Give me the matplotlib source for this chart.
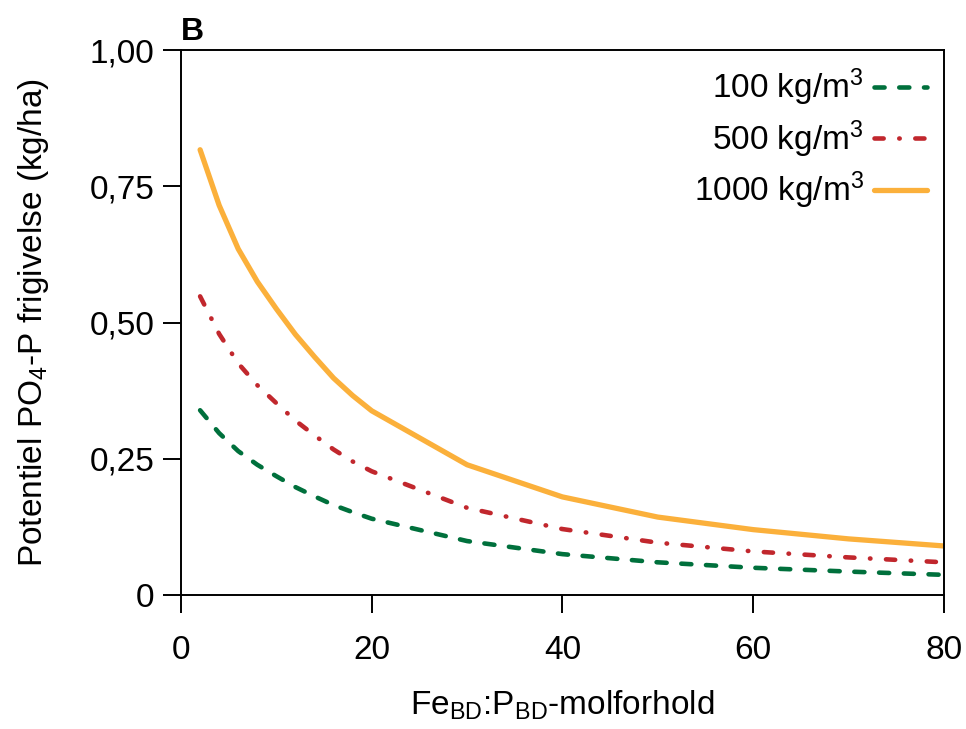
import numpy as np
import matplotlib
matplotlib.use("Agg")
import matplotlib.pyplot as plt

plt.rcParams['font.family'] = ['Liberation Sans', 'DejaVu Sans']
plt.rcParams['mathtext.fontset'] = 'custom'
plt.rcParams['mathtext.rm'] = 'Liberation Sans'
plt.rcParams['mathtext.it'] = 'Liberation Sans'

# Fe:P molar ratio
ratio = [2, 4, 6, 8, 10, 12, 14, 16, 18, 20, 30, 40, 50, 60, 70, 80]

# potential PO4-P release (kg/ha) per sediment density
p_100 = [0.339, 0.297, 0.264, 0.239, 0.218, 0.198, 0.181, 0.165, 0.152, 0.140,
         0.099, 0.075, 0.060, 0.050, 0.043, 0.037]
p_500 = [0.548, 0.479, 0.425, 0.385, 0.352, 0.320, 0.293, 0.267, 0.245, 0.227,
         0.160, 0.121, 0.096, 0.080, 0.069, 0.060]
p_1000 = [0.817, 0.715, 0.635, 0.575, 0.525, 0.478, 0.437, 0.398, 0.366, 0.338,
          0.239, 0.180, 0.143, 0.120, 0.103, 0.090]

labels = ['100 kg/m$^3$', '500 kg/m$^3$', '1000 kg/m$^3$']

xticks = [0, 20, 40, 60, 80]
yticks = [0, 0.25, 0.5, 0.75, 1.0]
yticklabels = ['0', '0,25', '0,50', '0,75', '1,00']

fig = plt.figure(figsize=(9.66, 7.29), dpi=100)
ax = fig.add_axes([0.1874, 0.1838, 0.7896, 0.7476])

ax.plot(ratio, p_100, color='#00703C', lw=3.3, dashes=(2.2, 3.2),
        dash_capstyle='round', label=labels[0])
ax.plot(ratio, p_500, color='#C1272D', lw=3.3, dashes=(2.0, 3.4, 0.1, 3.4),
        dash_capstyle='round', label=labels[1])
ax.plot(ratio, p_1000, color='#FBB03B', lw=3.8, solid_capstyle='round',
        label=labels[2])

ax.set_xlim(0, 80)
ax.set_ylim(0, 1.0)
ax.set_xticks(xticks)
ax.set_yticks(yticks)
ax.set_yticklabels(yticklabels)
ax.tick_params(direction='out', length=13, width=1.4, labelsize=24, pad=6)
ax.tick_params(axis='x', pad=16)
for s in ax.spines.values():
    s.set_linewidth(1.4)

ax.set_xlabel(r'Fe$_{\mathrm{BD}}$:P$_{\mathrm{BD}}$-molforhold', fontsize=24, labelpad=16)
ax.set_ylabel(r'Potentiel PO$_4$-P frigivelse (kg/ha)', fontsize=24, labelpad=28)

ax.text(0.0, 1.006, 'B', transform=ax.transAxes, fontsize=23, fontweight='bold',
        ha='left', va='bottom')

leg = ax.legend(loc='upper right', bbox_to_anchor=(1.0, 1.0), frameon=False,
                markerfirst=False, fontsize=24, handlelength=1.6,
                handletextpad=0.3, labelspacing=0.3, borderaxespad=0.3,
                borderpad=0.2)

plt.savefig("out.png", dpi=100)
